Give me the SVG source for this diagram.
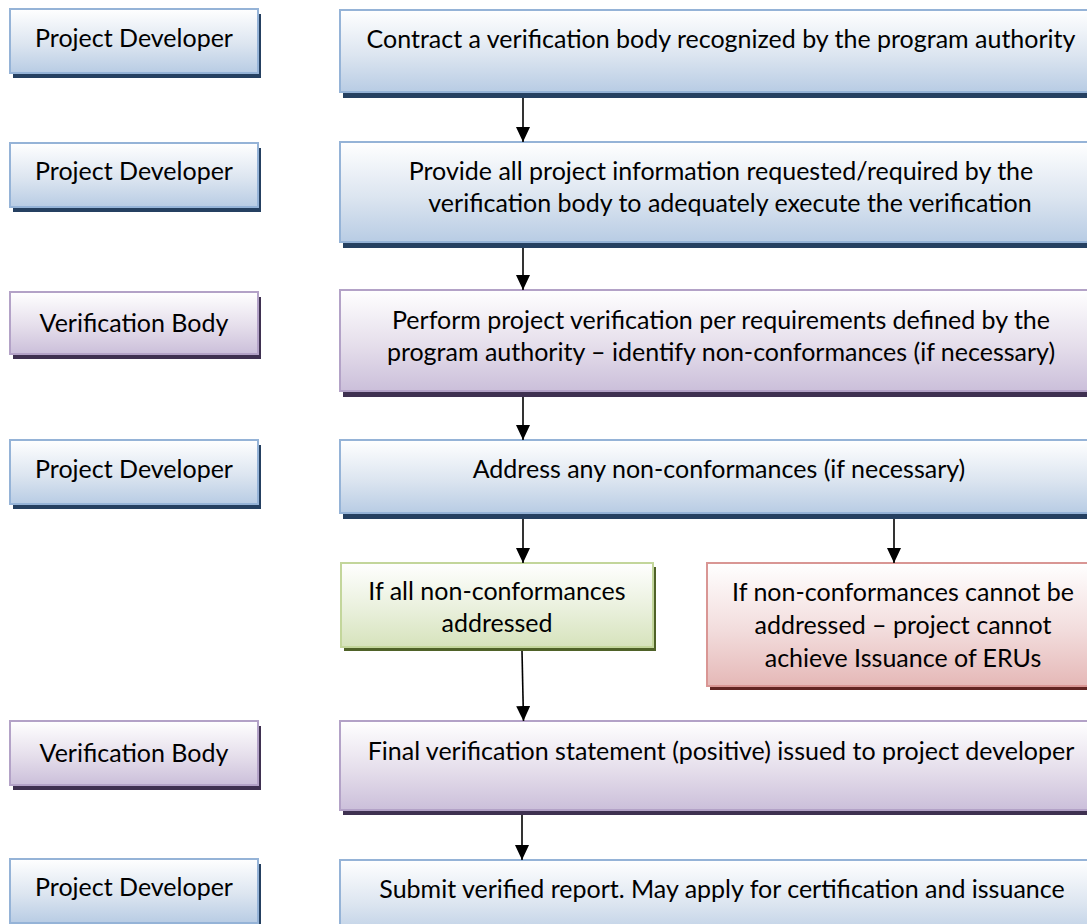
<svg xmlns="http://www.w3.org/2000/svg" width="1087" height="924" viewBox="0 0 1087 924">
<defs>
<linearGradient id="gBlue" x1="0" y1="0" x2="0" y2="1">
<stop offset="0" stop-color="#FFFFFF"/><stop offset="0.55" stop-color="#DCE5F0"/><stop offset="1" stop-color="#B8CCE4"/>
</linearGradient>
<linearGradient id="gPurple" x1="0" y1="0" x2="0" y2="1">
<stop offset="0" stop-color="#FFFFFF"/><stop offset="0.55" stop-color="#E5DEEB"/><stop offset="1" stop-color="#CBBFDA"/>
</linearGradient>
<linearGradient id="gGreen" x1="0" y1="0" x2="0" y2="1">
<stop offset="0" stop-color="#FFFFFF"/><stop offset="0.55" stop-color="#E9F0DC"/><stop offset="1" stop-color="#D6E3BC"/>
</linearGradient>
<linearGradient id="gRed" x1="0" y1="0" x2="0" y2="1">
<stop offset="0" stop-color="#FFFFFF"/><stop offset="0.55" stop-color="#F2DCDC"/><stop offset="1" stop-color="#E5B8B7"/>
</linearGradient>
<marker id="arr" markerUnits="userSpaceOnUse" markerWidth="15" markerHeight="14" viewBox="0 0 15 14" refX="15" refY="7" orient="auto">
<path d="M0,0 L15,7 L0,14 z" fill="#000"/>
</marker>
</defs>
<style>
text{font-family:Lato,"Liberation Sans",sans-serif;font-size:25px;fill:#000;text-anchor:middle}
.blue{fill:url(#gBlue);stroke:#95B3D7;stroke-width:2}
.purple{fill:url(#gPurple);stroke:#B3A2C7;stroke-width:2}
.green{fill:url(#gGreen);stroke:#C3D69B;stroke-width:2}
.red{fill:url(#gRed);stroke:#D99694;stroke-width:2}
.shBlue{fill:#254061}
.shPurple{fill:#3F3151}
.shGreen{fill:#4F6228}
.shRed{fill:#632523}
.conn{stroke:#000;stroke-width:1.6;fill:none;marker-end:url(#arr)}
</style>
<rect width="1087" height="924" fill="#FFFFFF"/>

<g id="role1"><rect class="shBlue" x="13" y="14" width="248" height="64"/><rect class="blue" x="10" y="9" width="248" height="64"/><text x="134" y="47">Project Developer</text></g>
<g id="role2"><rect class="shBlue" x="13" y="148" width="248" height="64"/><rect class="blue" x="10" y="143" width="248" height="64"/><text x="134" y="180">Project Developer</text></g>
<g id="role3"><rect class="shPurple" x="13" y="297" width="248" height="62"/><rect class="purple" x="10" y="292" width="248" height="62"/><text x="134" y="332">Verification Body</text></g>
<g id="role4"><rect class="shBlue" x="13" y="445" width="248" height="64"/><rect class="blue" x="10" y="440" width="248" height="64"/><text x="134" y="478">Project Developer</text></g>
<g id="role5"><rect class="shPurple" x="13" y="726" width="248" height="64"/><rect class="purple" x="10" y="721" width="248" height="64"/><text x="134" y="762">Verification Body</text></g>
<g id="role6"><rect class="shBlue" x="13" y="864" width="248" height="64"/><rect class="blue" x="10" y="859" width="248" height="64"/><text x="134" y="896">Project Developer</text></g>

<g id="step1"><rect class="shBlue" x="343" y="16" width="762" height="82"/><rect class="blue" x="340" y="10" width="762" height="82"/><text x="721" y="48">Contract a verification body recognized by the program authority</text></g>
<g id="step2"><rect class="shBlue" x="343" y="148" width="762" height="100"/><rect class="blue" x="340" y="142" width="762" height="100"/><text x="721" y="180">Provide all project information requested/required by the</text><text x="730" y="212">verification body to adequately execute the verification</text></g>
<g id="step3"><rect class="shPurple" x="343" y="296" width="762" height="101"/><rect class="purple" x="340" y="290" width="762" height="101"/><text x="721" y="329">Perform project verification per requirements defined by the</text><text x="721" y="361">program authority – identify non-conformances (if necessary)</text></g>
<g id="step4"><rect class="shBlue" x="343" y="446" width="762" height="73"/><rect class="blue" x="340" y="440" width="762" height="73"/><text x="719" y="478">Address any non-conformances (if necessary)</text></g>
<g id="branchYes"><rect class="shGreen" x="344" y="567" width="312" height="84"/><rect class="green" x="341" y="563" width="312" height="84"/><text x="497" y="600">If all non-conformances</text><text x="497" y="632">addressed</text></g>
<g id="branchNo"><rect class="shRed" x="710" y="567" width="395" height="123"/><rect class="red" x="707" y="563" width="395" height="123"/><text x="903" y="601">If non-conformances cannot be</text><text x="903" y="634">addressed – project cannot</text><text x="903" y="667">achieve Issuance of ERUs</text></g>
<g id="step5"><rect class="shPurple" x="343" y="726" width="762" height="89"/><rect class="purple" x="340" y="721" width="762" height="89"/><text x="721" y="760">Final verification statement (positive) issued to project developer</text></g>
<g id="step6"><rect class="shBlue" x="343" y="866" width="762" height="80"/><rect class="blue" x="340" y="860" width="762" height="80"/><text x="722" y="898">Submit verified report. May apply for certification and issuance</text></g>

<g id="connectors">
<line class="conn" x1="523" y1="98" x2="523" y2="142"/>
<line class="conn" x1="523" y1="248" x2="523" y2="290"/>
<line class="conn" x1="523" y1="397" x2="523" y2="440"/>
<line class="conn" x1="523" y1="519" x2="523" y2="563"/>
<line class="conn" x1="894" y1="519" x2="894" y2="563"/>
<line class="conn" x1="522" y1="651" x2="523.5" y2="721"/>
<line class="conn" x1="522" y1="815" x2="522" y2="860"/>
</g>
</svg>
